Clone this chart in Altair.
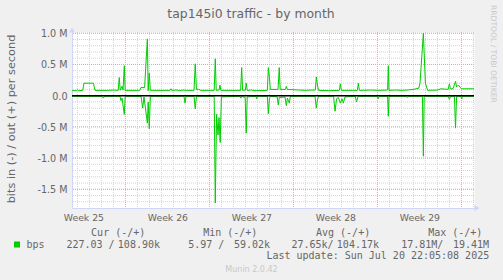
import altair as alt
import pandas as pd

# ---------------- data ----------------
# x = days since Mon 2025-06-16 00:00 (start of ISO week 25); y = Mbit/s
out_day = [2.55, 2.9, 3.0, 3.1, 3.44, 3.55, 4.33, 4.47, 5.5, 6.0, 6.4, 6.49, 6.57, 6.72, 6.8, 6.91, 6.98,
           8.2, 8.3, 8.6, 8.83, 8.9, 8.99, 9.08, 10.7, 10.8, 10.87, 11.3, 11.5, 11.8, 12.0, 12.72, 12.82, 12.92,
           13.1, 13.3, 14.4, 14.49, 14.57, 14.8, 14.88, 14.95, 16.6, 16.69, 16.77, 17.0, 17.07, 17.15, 17.5, 17.8,
           18.83, 18.91, 19.0, 19.08, 19.72, 19.82, 19.9, 20.33, 20.41, 20.5, 21.0, 21.5, 22.0, 22.5, 22.83, 22.91,
           23.0, 23.1, 24.0, 24.83, 24.91, 25.0, 26.0, 26.33, 26.41, 26.5, 27.5, 28.0, 28.85, 28.91, 28.97, 29.5,
           30.0, 30.5, 31.0, 31.45, 31.55, 31.83, 32.0, 32.19, 33.0, 33.3, 33.9, 34.0, 34.08, 34.3, 34.51, 34.6,
           34.74, 35.0, 36.05]
out_mbps = [0.08, 0.08, 0.095, 0.08, 0.085, 0.2, 0.2, 0.085, 0.085, 0.09, 0.085, 0.29, 0.085, 0.15, 0.09, 0.48, 0.085,
            0.085, 0.13, 0.13, 0.91, 0.08, 0.36, 0.085, 0.085, 0.11, 0.085, 0.09, 0.08, 0.09, 0.085, 0.085, 0.51, 0.1,
            0.1, 0.085, 0.085, 0.59, 0.085, 0.09, 0.17, 0.085, 0.085, 0.45, 0.085, 0.09, 0.2, 0.085, 0.09, 0.08,
            0.085, 0.45, 0.3, 0.1, 0.1, 0.45, 0.1, 0.1, 0.15, 0.1, 0.095, 0.09, 0.085, 0.09, 0.09, 0.3,
            0.17, 0.085, 0.08, 0.085, 0.19, 0.085, 0.085, 0.085, 0.2, 0.085, 0.09, 0.085, 0.09, 0.48, 0.085, 0.09,
            0.085, 0.09, 0.1, 0.12, 0.2, 1.0, 0.2, 0.085, 0.09, 0.11, 0.1, 0.19, 0.11, 0.11, 0.23, 0.14,
            0.17, 0.11, 0.11]

in_day = [2.55, 5.05, 5.16, 5.27, 6.55, 6.63, 6.72, 6.91, 6.98, 7.1, 8.3, 8.44, 8.55, 8.83, 8.9, 8.99, 9.08,
          11.88, 11.97, 12.05, 12.72, 12.82, 12.92, 14.4, 14.49, 14.6, 14.72, 14.8, 14.9, 15.0, 16.55, 16.62, 16.7,
          16.98, 17.07, 17.15, 17.88, 17.94, 18.0, 18.83, 18.91, 19.0, 19.08, 19.65, 19.74, 19.82, 20.3, 20.41,
          20.5, 20.66, 20.75, 22.8, 22.91, 23.0, 23.1, 24.35, 24.47, 24.6, 24.75, 24.91, 25.05, 25.16, 25.3,
          26.15, 26.26, 26.4, 27.98, 28.07, 28.15, 28.85, 28.91, 28.97, 30.4, 30.49, 30.58, 31.75, 31.83, 31.9,
          33.9, 34.0, 34.1, 34.42, 34.51, 34.6, 34.95, 35.03, 35.1, 36.05]
in_mbps = [0.01, 0.01, 0.04, 0.01, 0.01, 0.08, 0.04, 0.3, 0.02, 0.01, 0.01, 0.2, 0.02, 0.44, 0.1, 0.53, 0.01,
           0.01, 0.12, 0.01, 0.01, 0.21, 0.01, 0.01, 1.72, 0.3, 0.63, 0.35, 0.75, 0.02, 0.01, 0.04, 0.01,
           0.03, 0.6, 0.02, 0.01, 0.05, 0.01, 0.01, 0.29, 0.05, 0.01, 0.02, 0.15, 0.03, 0.02, 0.16,
           0.04, 0.12, 0.01, 0.01, 0.2, 0.07, 0.01, 0.01, 0.25, 0.05, 0.03, 0.12, 0.05, 0.12, 0.02,
           0.01, 0.1, 0.01, 0.01, 0.05, 0.01, 0.01, 0.33, 0.01, 0.01, 0.03, 0.01, 0.01, 0.97, 0.01,
           0.01, 0.06, 0.01, 0.01, 0.52, 0.01, 0.01, 0.05, 0.01, 0.01]

week_label_day = [3.5, 10.5, 17.5, 24.5, 31.5]
week_start_day = [7, 14, 21, 28, 35]
day_lines = [d for d in range(3, 37) if d % 7 != 0]
y_ticks = [-1.5, -1.0, -0.5, 0.0, 0.5, 1.0]
y_minor = [round(-1.7 + 0.1 * i, 1) for i in range(28)]

title_text = "tap145i0 traffic - by month"
y_title_text = "bits in (-) / out (+) per second"
legend_name = "bps"
legend_heads = ["Cur (-/+)", "Min (-/+)", "Avg (-/+)", "Max (-/+)"]
legend_in = ["227.03 /", "5.97 /", "27.65k/", "17.81M/"]
legend_out = ["108.90k", "59.02k", "104.17k", "19.41M"]
last_update = "Last update: Sun Jul 20 22:05:08 2025"
watermark = "Munin 2.0.42"
side_text = "RRDTOOL / TOBI OETIKER"

# ---------------- styling ----------------
OX, OY = 72, 32
W, H = 402, 176
GREEN = "#00CC00"
FONT_C = "#666666"
AXIS_C = "#CFD6F8"
GRID_C = "#d2d2d2"
MGRID_C = "#eaa4a4"
SANS = "DejaVu Sans"
MONO = "DejaVu Sans Mono"

xs = alt.Scale(domain=[2.55, 36.05], nice=False, zero=False)
ys = alt.Scale(domain=[-1.80, 1.02], nice=False, zero=False)

out_df = pd.DataFrame({"day": out_day, "v": out_mbps})
in_df = pd.DataFrame({"day": in_day, "v": [-v for v in in_mbps]})
one = pd.DataFrame({"a": [0]})

x_axis = alt.Axis(
    values=week_label_day, labelExpr="'Week ' + (25 + floor(datum.value / 7))",
    title=None, grid=False, ticks=False, tickSize=0, domain=True, domainColor=AXIS_C,
    domainWidth=1, labelFont=SANS, labelFontSize=9.3, labelColor=FONT_C,
    labelPadding=12.7, labelBaseline="alphabetic", labelAlign="center"
)
y_axis = alt.Axis(
    values=y_ticks,
    labelExpr="datum.value == 0 ? '0.0\u00a0\u00a0' : (datum.value < 0 ? '-' : '') + format(abs(datum.value), '.1f') + '\u00a0M'",
    title=None, grid=False, ticks=False, tickSize=0, domain=True, domainColor=AXIS_C,
    domainWidth=1, labelFont=SANS, labelFontSize=9.6, labelColor=FONT_C,
    labelPadding=5, labelBaseline="alphabetic", labelOffset=3.5, labelAlign="right"
)


def nb(s):
    return s.replace(" ", "\u00a0")


def txt(s, x, y, size=10, align="left", baseline="alphabetic", color=FONT_C, font=MONO, angle=0):
    return alt.Chart(one).mark_text(
        text=nb(s), align=align, baseline=baseline, fontSize=size, font=font,
        color=color, angle=angle
    ).encode(x=alt.value(x - OX), y=alt.value(y - OY))


vgrid = alt.Chart(pd.DataFrame({"d": day_lines})).mark_rule(
    color=GRID_C, strokeDash=[1, 1], strokeWidth=1
).encode(x=alt.X("d:Q", scale=xs, axis=x_axis))
hgrid = alt.Chart(pd.DataFrame({"y": y_minor})).mark_rule(
    color=GRID_C, strokeDash=[1, 1], strokeWidth=1
).encode(y=alt.Y("y:Q", scale=ys, axis=y_axis))
vmgrid = alt.Chart(pd.DataFrame({"d": week_start_day})).mark_rule(
    color=MGRID_C, strokeDash=[1, 1], strokeWidth=1
).encode(x=alt.X("d:Q", scale=xs, axis=x_axis))
hmgrid = alt.Chart(pd.DataFrame({"y": y_ticks})).mark_rule(
    color=MGRID_C, strokeDash=[1, 1], strokeWidth=1
).encode(y=alt.Y("y:Q", scale=ys, axis=y_axis))

out_line = alt.Chart(out_df).mark_line(color=GREEN, strokeWidth=1).encode(
    x=alt.X("day:Q", scale=xs, axis=x_axis),
    y=alt.Y("v:Q", scale=ys, axis=y_axis),
)
in_line = alt.Chart(in_df).mark_line(color=GREEN, strokeWidth=1).encode(
    x=alt.X("day:Q", scale=xs, axis=x_axis),
    y=alt.Y("v:Q", scale=ys, axis=y_axis),
)
zero = alt.Chart(pd.DataFrame({"y": [0.0]})).mark_rule(color="#000000", strokeWidth=1.5).encode(
    y=alt.Y("y:Q", scale=ys, axis=y_axis)
)

arrow_up = alt.Chart(one).mark_point(shape="triangle-up", filled=True, color=AXIS_C, size=36, opacity=1).encode(
    x=alt.value(0), y=alt.value(-2)
)
arrow_right = alt.Chart(one).mark_point(shape="triangle-right", filled=True, color=AXIS_C, size=36, opacity=1).encode(
    x=alt.value(W + 3), y=alt.value(H)
)

legend_sq = alt.Chart(one).mark_rect(color=GREEN).encode(
    x=alt.value(14 - OX), x2=alt.value(20 - OX), y=alt.value(241.5 - OY), y2=alt.value(247.5 - OY)
)

texts = [
    txt(title_text, 251, 18.4, size=12.4, align="center", font=SANS),
    txt(y_title_text, 11.5, 119, size=11.3, align="center", baseline="middle", font=SANS, angle=270),
    txt(side_text, 492.7, 5, size=7.6, align="left", baseline="middle", font=SANS, color="#c8c8c8", angle=90),
    txt(watermark, 251.5, 272.3, size=8, align="center", font=SANS, color="#c8c8c8"),
    txt(legend_name, 26.5, 247.7),
    txt(last_update, 489.2, 259.3, align="right"),
]
head_x = [91.1, 203.2, 316.0, 428.2]
in_x = [66.4, 188.2, 291.4, 401.2]
out_x = [160.0, 270.0, 379.0, 489.0]
for i in range(4):
    texts.append(txt(legend_heads[i], head_x[i], 236.0))
    texts.append(txt(legend_in[i], in_x[i], 247.7))
    texts.append(txt(legend_out[i], out_x[i], 247.7, align="right"))

chart = alt.layer(
    vgrid, hgrid, vmgrid, hmgrid, out_line, in_line, zero, arrow_up, arrow_right, legend_sq, *texts
).properties(
    width=W, height=H, background="#F0F0F0",
    padding={"left": OX, "top": OY, "right": 503 - OX - W, "bottom": 280 - OY - H},
    autosize=alt.AutoSizeParams(type="none"),
).configure_view(fill="white", stroke="transparent")

chart.save("out.html", embed_options={"renderer": "svg", "actions": False})
